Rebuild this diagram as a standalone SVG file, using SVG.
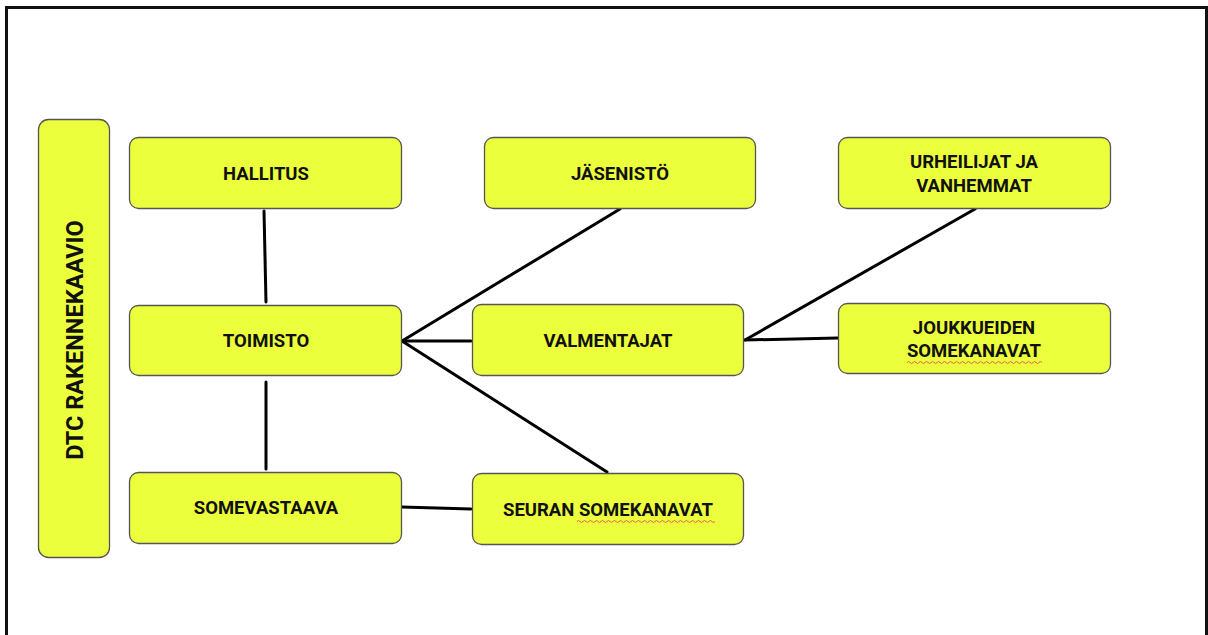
<svg xmlns="http://www.w3.org/2000/svg" width="1208" height="635" viewBox="0 0 1208 635">
<style>
.box{fill:#ecff3c;stroke:#555;stroke-width:1.3}
.t{font-family:Roboto,"Liberation Sans",sans-serif;font-weight:bold;font-size:18.5px;fill:#111;text-anchor:middle}
.c{stroke:#000;stroke-width:3;fill:none;stroke-linecap:round}
.sp{stroke:#e05050;stroke-width:0.9;fill:none}
</style>
<rect x="0" y="0" width="1208" height="635" fill="#fff"/>
<path d="M6.5 640 V7.5 H1206.5 V640" fill="none" stroke="#111" stroke-width="3"/>
<g id="connectors">
<line class="c" x1="264" y1="211" x2="266" y2="302"/>
<line class="c" x1="266" y1="382" x2="266" y2="469"/>
<line class="c" x1="402" y1="341" x2="620" y2="209"/>
<line class="c" x1="402" y1="341" x2="471" y2="341"/>
<line class="c" x1="402" y1="341" x2="607" y2="472"/>
<line class="c" x1="745" y1="340" x2="975" y2="209"/>
<line class="c" x1="745" y1="340" x2="838" y2="338"/>
<line class="c" x1="402" y1="507" x2="471" y2="509"/>
</g>
<g id="dtc">
<rect class="box" x="38.5" y="119.5" width="71" height="438" rx="10"/>
<text class="t" style="font-size:23.5px" transform="translate(82.5 340) rotate(-90)">DTC RAKENNEKAAVIO</text>
</g>
<g id="hallitus">
<rect class="box" x="129.5" y="137.5" width="272" height="71" rx="9"/>
<text class="t" x="266" y="180">HALLITUS</text>
</g>
<g id="jasenisto">
<rect class="box" x="484.5" y="137.5" width="271" height="71" rx="9"/>
<text class="t" x="620" y="180">JÄSENISTÖ</text>
</g>
<g id="urheilijat">
<rect class="box" x="838.5" y="137.5" width="272" height="71" rx="9"/>
<text class="t" x="974" y="168">URHEILIJAT JA</text>
<text class="t" x="974" y="192">VANHEMMAT</text>
</g>
<g id="toimisto">
<rect class="box" x="129.5" y="305.5" width="272" height="70" rx="9"/>
<text class="t" x="266" y="347">TOIMISTO</text>
</g>
<g id="valmentajat">
<rect class="box" x="472.5" y="304.5" width="271" height="71" rx="9"/>
<text class="t" x="608" y="347">VALMENTAJAT</text>
</g>
<g id="joukkueiden">
<rect class="box" x="838.5" y="303.5" width="272" height="70" rx="9"/>
<text class="t" x="974" y="334">JOUKKUEIDEN</text>
<text class="t" x="974" y="357">SOMEKANAVAT</text>
<path class="sp" d="M907 362.5 q1.5 -2 3 0 t3 0 t3 0 t3 0 t3 0 t3 0 t3 0 t3 0 t3 0 t3 0 t3 0 t3 0 t3 0 t3 0 t3 0 t3 0 t3 0 t3 0 t3 0 t3 0 t3 0 t3 0 t3 0 t3 0 t3 0 t3 0 t3 0 t3 0 t3 0 t3 0 t3 0 t3 0 t3 0 t3 0 t3 0 t3 0 t3 0 t3 0 t3 0 t3 0 t3 0 t3 0 t3 0 t3 0 t3 0"/>
</g>
<g id="somevastaava">
<rect class="box" x="129.5" y="472.5" width="272" height="71" rx="9"/>
<text class="t" x="266" y="514">SOMEVASTAAVA</text>
</g>
<g id="seuran">
<rect class="box" x="472.5" y="473.5" width="271" height="71" rx="9"/>
<text class="t" x="608" y="516">SEURAN SOMEKANAVAT</text>
<path class="sp" d="M577 521.5 q1.5 -2 3 0 t3 0 t3 0 t3 0 t3 0 t3 0 t3 0 t3 0 t3 0 t3 0 t3 0 t3 0 t3 0 t3 0 t3 0 t3 0 t3 0 t3 0 t3 0 t3 0 t3 0 t3 0 t3 0 t3 0 t3 0 t3 0 t3 0 t3 0 t3 0 t3 0 t3 0 t3 0 t3 0 t3 0 t3 0 t3 0 t3 0 t3 0 t3 0 t3 0 t3 0 t3 0 t3 0 t3 0 t3 0 t3 0"/>
</g>
</svg>
